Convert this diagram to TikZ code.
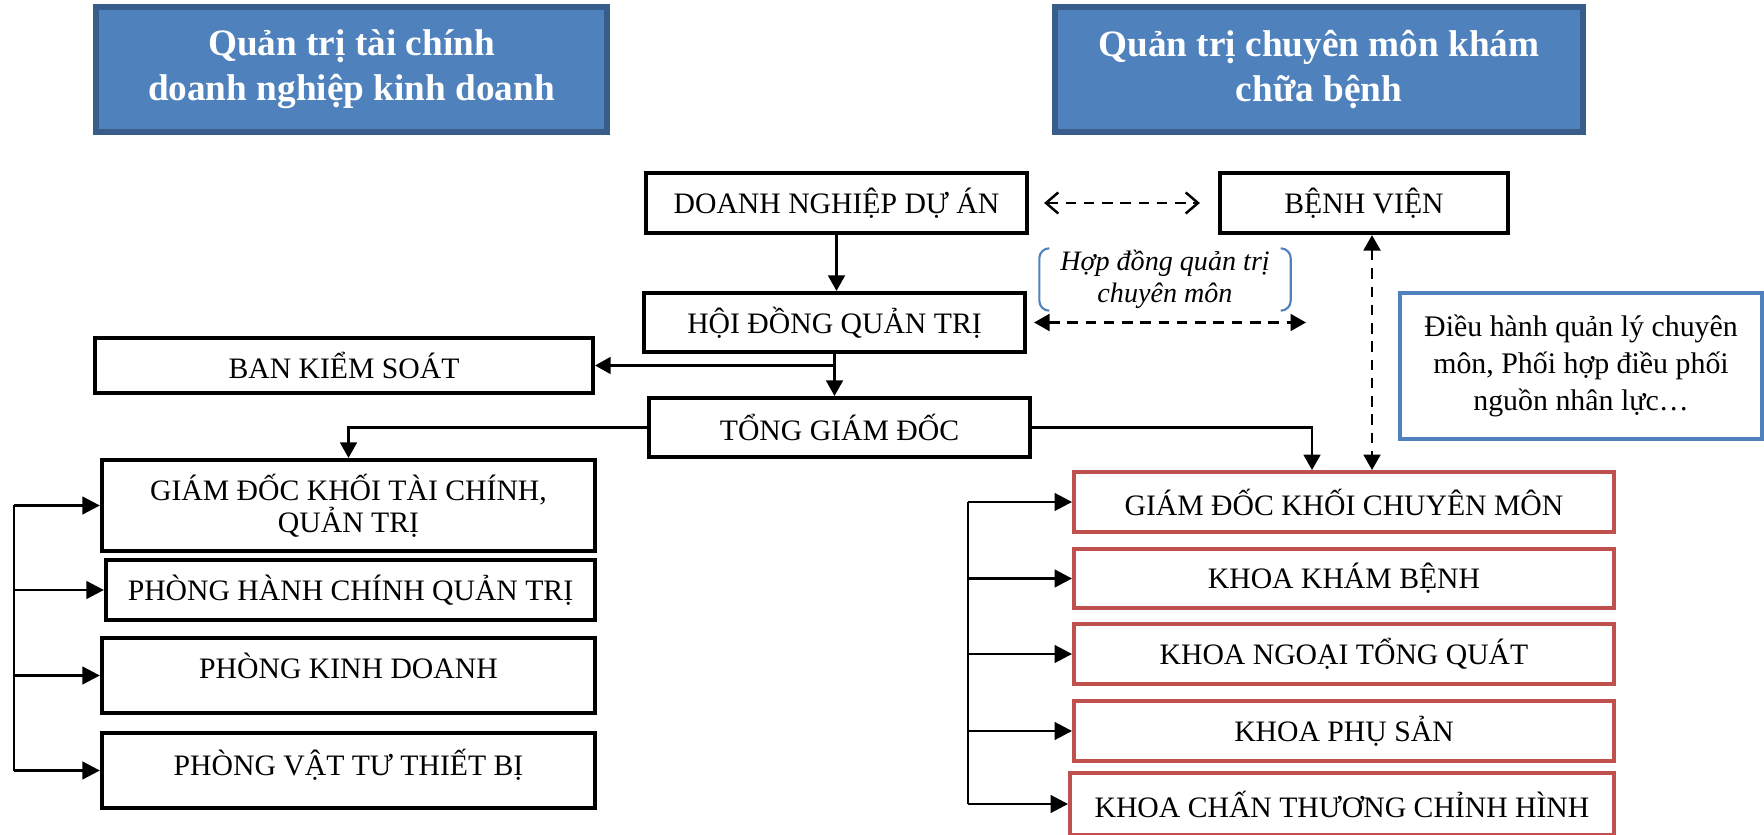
\documentclass[tikz,border=0pt]{standalone}
\usepackage{fontspec}
\setmainfont{Liberation Serif}
\usetikzlibrary{arrows.meta}
\definecolor{hdrblue}{HTML}{4F81BD}
\definecolor{hdrdark}{HTML}{385D8A}
\definecolor{boxred}{HTML}{C0504D}
\definecolor{noteblue}{HTML}{4F81BD}
\tikzset{
	hdr/.style={shape=rectangle,fill=hdrblue,draw=hdrdark,line width=1.5pt,text=white,align=center,inner sep=0pt,font=\bfseries\fontsize{10.6}{12.8}\selectfont},
	blk/.style={shape=rectangle,draw=black,line width=1.2pt,align=center,inner sep=0pt,font=\fontsize{8.45}{9.2}\selectfont},
	redblk/.style={blk,draw=boxred,line width=1.1pt},
	conn/.style={line width=0.6pt,-{Triangle[length=4.4pt,width=4.8pt]}},
	bus/.style={line width=0.8pt},
	busarr/.style={line width=0.8pt,-{Triangle[length=5pt,width=5pt]}},
	opendash/.style={line width=0.7pt,dash pattern=on 3pt off 2.2pt,{Straight Barb[length=3.5pt,width=6pt]}-{Straight Barb[length=3.5pt,width=6pt]}},
	filldash/.style={line width=0.7pt,dash pattern=on 3pt off 2.2pt,{Triangle[length=4.4pt,width=4.8pt]}-{Triangle[length=4.4pt,width=4.8pt]}},
	brk/.style={draw=noteblue,line width=0.6pt,rounded corners=0.1cm}
}
\begin{document}
\begin{tikzpicture}
	\useasboundingbox (0,0) rectangle (17.64,-8.35);
	\node[hdr,minimum width=5.11cm,minimum height=1.25cm](hl) at (3.515,-0.695) {Quản trị tài chính\\doanh nghiệp kinh doanh};
	\node[hdr,minimum width=5.28cm,minimum height=1.25cm](hr) at (13.19,-0.695) {Quản trị chuyên môn khám\\chữa bệnh};
	\node[blk,minimum width=3.81cm,minimum height=0.6cm](dn) at (8.365,-2.03) {DOANH NGHIỆP DỰ ÁN};
	\node[blk,minimum width=2.88cm,minimum height=0.6cm](bv) at (13.64,-2.03) {BỆNH VIỆN};
	\node[blk,minimum width=3.81cm,minimum height=0.59cm](hdqt) at (8.345,-3.225) {HỘI ĐỒNG QUẢN TRỊ};
	\node[blk,minimum width=4.98cm,minimum height=0.55cm](bks) at (3.44,-3.655) {BAN KIỂM SOÁT};
	\node[blk,minimum width=3.81cm,minimum height=0.59cm](tgd) at (8.395,-4.275) {TỔNG GIÁM ĐỐC};
	\node[blk,minimum width=4.93cm,minimum height=0.91cm](gdtc) at (3.485,-5.055) {GIÁM ĐỐC KHỐI TÀI CHÍNH,\\QUẢN TRỊ};
	\node[blk,minimum width=4.89cm,minimum height=0.6cm](phc) at (3.505,-5.9) {PHÒNG HÀNH CHÍNH QUẢN TRỊ};
	\node[blk,minimum width=4.93cm,minimum height=0.75cm,text depth=0.2cm](pkd) at (3.485,-6.755) {PHÒNG KINH DOANH};
	\node[blk,minimum width=4.93cm,minimum height=0.75cm,text depth=0.16cm](pvt) at (3.485,-7.705) {PHÒNG VẬT TƯ THIẾT BỊ};
	\node[redblk,minimum width=5.4cm,minimum height=0.6cm](gdcm) at (13.44,-5.02) {GIÁM ĐỐC KHỐI CHUYÊN MÔN};
	\node[redblk,minimum width=5.4cm,minimum height=0.59cm](kkb) at (13.44,-5.785) {KHOA KHÁM BỆNH};
	\node[redblk,minimum width=5.4cm,minimum height=0.6cm](kntq) at (13.44,-6.54) {KHOA NGOẠI TỔNG QUÁT};
	\node[redblk,minimum width=5.4cm,minimum height=0.6cm](kps) at (13.44,-7.31) {KHOA PHỤ SẢN};
	\node[redblk,minimum width=5.44cm,minimum height=0.62cm](kcth) at (13.42,-8.04) {KHOA CHẤN THƯƠNG CHỈNH HÌNH};
	\node[blk,draw=noteblue,minimum width=3.62cm,minimum height=1.46cm,font=\fontsize{8.5}{10.5}\selectfont](ql) at (15.81,-3.66) {Điều hành quản lý chuyên\\môn, Phối hợp điều phối\\nguồn nhân lực…};
	\node[shape=rectangle,align=center,inner sep=0pt,minimum width=2.5cm,minimum height=0.61cm,font=\itshape\fontsize{8}{9.1}\selectfont](hd) at (11.65,-2.795) {Hợp đồng quản trị\\chuyên môn};
	\coordinate (hdend) at (13.06,-3.225);
	\coordinate (busl) at (0.14,-5.04);
	\coordinate (busr) at (9.68,-5.03);
	\draw[brk] ([xshift=0.1cm]hd.north west) -- (hd.north west) -- (hd.south west) -- ([xshift=0.1cm]hd.south west);
	\draw[brk] ([xshift=-0.1cm]hd.north east) -- (hd.north east) -- (hd.south east) -- ([xshift=-0.1cm]hd.south east);
	\draw[conn] (dn.south) -- (dn.south |- hdqt.north);
	\draw[conn] (hdqt.south) -- (hdqt.south |- tgd.north);
	\draw[conn] (hdqt.south |- bks.east) -- (bks.east);
	\draw[conn] (tgd.west) -| (gdtc.north);
	\draw[conn] (tgd.east) -| ([xshift=-0.32cm]gdcm.north);
	\draw[opendash] ([xshift=0.15cm]dn.east) -- ([xshift=-0.18cm]bv.west);
	\draw[filldash] ([xshift=0.07cm]hdqt.east) -- (hdend);
	\draw[filldash] ([xshift=0.08cm]bv.south) -- ([xshift=0.08cm]bv.south |- gdcm.north);
	\draw[bus] (busl |- gdtc.west) -- (busl |- pvt.west);
	\draw[busarr] (busl |- gdtc.west) -- (gdtc.west);
	\draw[busarr] (busl |- phc.west) -- (phc.west);
	\draw[busarr] (busl |- pkd.west) -- (pkd.west);
	\draw[busarr] (busl |- pvt.west) -- (pvt.west);
	\draw[bus] (busr |- gdcm.west) -- (busr |- kcth.west);
	\draw[busarr] (busr |- gdcm.west) -- (gdcm.west);
	\draw[busarr] (busr |- kkb.west) -- (kkb.west);
	\draw[busarr] (busr |- kntq.west) -- (kntq.west);
	\draw[busarr] (busr |- kps.west) -- (kps.west);
	\draw[busarr] (busr |- kcth.west) -- (kcth.west);
\end{tikzpicture}
\end{document}
